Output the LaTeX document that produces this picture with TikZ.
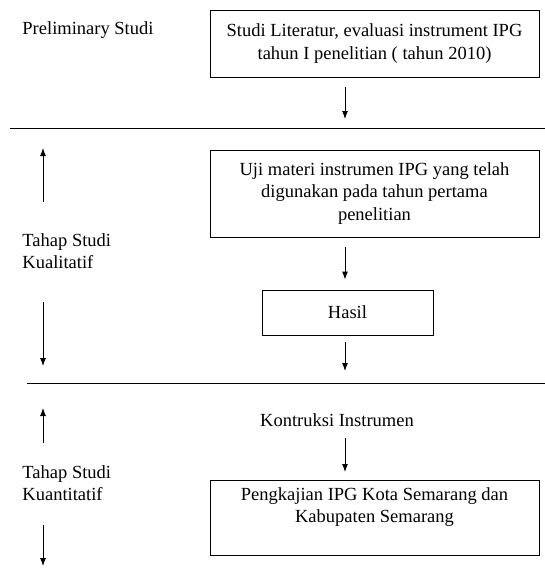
\documentclass[tikz,border=0pt]{standalone}
\usepackage{fontspec}
\setmainfont{Liberation Serif}
\usetikzlibrary{arrows.meta,positioning}

\begin{document}
\begin{tikzpicture}[x=1pt,y=-1pt,line width=0.9pt,
      >={Latex[length=8pt,width=6pt]},
      every node/.append style={font=\fontsize{18.5}{22.5}\selectfont}]
    \tikzstyle{stepbox} = [draw,align=center,minimum width=329pt,inner sep=4pt]
    \tikzstyle{phase} = [align=left,anchor=west,inner sep=0pt]
    \useasboundingbox (0,0) rectangle (545,570);
    % phase labels
    \node (prelim) [phase] at (22,30) {Preliminary Studi};
    \node (kual) [phase] at (22,251) {Tahap Studi\\Kualitatif};
    \node (kuan) [phase] at (22,483) {Tahap Studi\\Kuantitatif};
    % steps
    \node (lit) [stepbox,minimum height=67pt] at (374.5,43.5)
      {Studi Literatur, evaluasi instrument IPG\\tahun I penelitian ( tahun 2010)};
    \node (uji) [stepbox,minimum height=87pt] at (374.5,193.5)
      {Uji materi instrumen IPG yang telah\\digunakan pada tahun pertama\\penelitian};
    \node (hasil) [stepbox,minimum width=171pt,minimum height=45pt] at (347.5,312.5) {Hasil};
    \node (kontruksi) at (337,420) {Kontruksi Instrumen};
    \node (kaji) [stepbox,minimum height=75pt,anchor=north,text depth=26pt] at (374.5,480)
      {Pengkajian IPG Kota Semarang dan\\Kabupaten Semarang};
    % phase borders
    \coordinate (b1w) at (10,128);
    \coordinate (b1e) at (545,128);
    \coordinate (b2w) at (27,383);
    \coordinate (b2e) at (545,383);
    \draw (b1w) -- (b1e);
    \draw (b2w) -- (b2e);
    % flow
    \coordinate (litend) at (345,119);
    \coordinate (hasilend) at (345,371);
    \draw[->] (lit.south -| litend) ++(0,10) -- (litend);
    \draw[->,shorten <=10pt,shorten >=10pt] (uji.south -| hasilend) -- (hasil.north -| hasilend);
    \draw[->] (hasil.south -| hasilend) ++(0,7) -- (hasilend);
    \draw[->,shorten <=8pt,shorten >=8pt] (kontruksi.south -| hasilend) -- (kaji.north -| hasilend);
    % phase arrows
    \coordinate (kualtop) at (43,148);
    \coordinate (kualbot) at (43,366);
    \coordinate (kuantop) at (43,408);
    \coordinate (kuanbot) at (43,566);
    \draw[->] (kualtop |- kual.north) ++(0,-31) -- (kualtop);
    \draw[->] (kualbot |- kual.south) ++(0,33) -- (kualbot);
    \draw[->] (kuantop |- kuan.north) ++(0,-22) -- (kuantop);
    \draw[->] (kuanbot |- kuan.south) ++(0,24) -- (kuanbot);
\end{tikzpicture}
\end{document}
